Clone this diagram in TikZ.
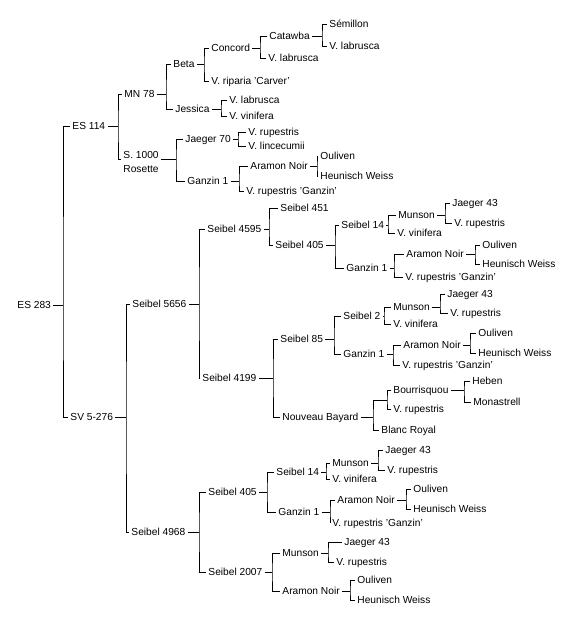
\documentclass[tikz,border=0pt]{standalone}
\usepackage{fontspec}
\setmainfont{Liberation Sans}
\begin{document}
\begin{tikzpicture}[x=1pt, y=-1pt, line width=0.9pt,
    font=\fontsize{10.2}{14}\selectfont,
    vine/.style={anchor=west, inner xsep=2pt, inner ysep=1pt, text height=8pt, text depth=1pt}]
        \useasboundingbox (0,0) rectangle (573,618);

        \node[vine] (es283) at (15,305) {ES 283};
        \node[vine] (es114) at (70,126) {ES 114};
        \node[vine] (sv) at (68,417) {SV 5-276};

        \node[vine] (mn78) at (122,94) {MN 78};
        \node[vine] (beta) at (171,64) {Beta};
        \node[vine] (concord) at (209,48) {Concord};
        \node[vine] (catawba) at (267,36) {Catawba};
        \node[vine] (semillon) at (327,24) {Sémillon};
        \node[vine] (labrA) at (327,46) {V. labrusca};
        \node[vine] (labrB) at (266,58) {V. labrusca};
        \node[vine] (riparia) at (209,81) {V. riparia 'Carver'};
        \node[vine] (jessica) at (173,109) {Jessica};
        \node[vine] (labrC) at (227,100) {V. labrusca};
        \node[vine] (vinA) at (227,116) {V. vinifera};
        \node[anchor=west, inner sep=2pt, align=left] (s1000) at (121,162) {S. 1000\\Rosette};
        \coordinate (s1000w) at ([yshift=3pt]s1000.west);
        \coordinate (s1000e) at ([yshift=3pt]s1000.east);
        \node[vine] (jaeger70) at (183,139) {Jaeger 70};
        \node[vine] (rupA) at (246,132) {V. rupestris};
        \node[vine] (lince) at (246,146) {V. lincecumii};
        \node[vine] (ganzA) at (185,181) {Ganzin 1};
        \node[vine] (aramA) at (248,166) {Aramon Noir};
        \node[vine] (oulA) at (318,156) {Ouliven};
        \node[vine] (heuA) at (318,176) {Heunisch Weiss};
        \node[vine] (vrgA) at (244,191) {V. rupestris 'Ganzin'};

        \node[vine] (s5656) at (130,304) {Seibel 5656};
        \node[vine] (s4595) at (205,229) {Seibel 4595};
        \node[vine] (s451) at (278,208) {Seibel 451};
        \node[vine] (s405A) at (273,245) {Seibel 405};
        \node[vine] (s14A) at (339,225) {Seibel 14};
        \node[vine] (munA) at (396,215) {Munson};
        \node[vine] (j43A) at (450,203) {Jaeger 43};
        \node[vine] (rupB) at (452,223) {V. rupestris};
        \node[vine] (vinB) at (395,233) {V. vinifera};
        \node[vine] (ganzB) at (344,268) {Ganzin 1};
        \node[vine] (aramB) at (404,254) {Aramon Noir};
        \node[vine] (oulB) at (480,245) {Ouliven};
        \node[vine] (heuB) at (480,264) {Heunisch Weiss};
        \node[vine] (vrgB) at (403,277) {V. rupestris 'Ganzin'};

        \node[vine] (s4199) at (200,378) {Seibel 4199};
        \node[vine] (s85) at (278,339) {Seibel 85};
        \node[vine] (s2) at (341,316) {Seibel 2};
        \node[vine] (munB) at (391,307) {Munson};
        \node[vine] (j43B) at (445,294) {Jaeger 43};
        \node[vine] (rupC) at (448,313) {V. rupestris};
        \node[vine] (vinC) at (391,324) {V. vinifera};
        \node[vine] (ganzC) at (341,354) {Ganzin 1};
        \node[vine] (aramC) at (401,345) {Aramon Noir};
        \node[vine] (oulC) at (476,333) {Ouliven};
        \node[vine] (heuC) at (476,353) {Heunisch Weiss};
        \node[vine] (vrgC) at (400,365) {V. rupestris 'Ganzin'};
        \node[vine] (nb) at (280,417) {Nouveau Bayard};
        \coordinate (nbj) at (387,400);
        \node[vine] (bourr) at (391,390) {Bourrisquou};
        \node[vine] (heben) at (470,381) {Heben};
        \node[vine] (monas) at (471,402) {Monastrell};
        \node[vine] (rupD) at (391,409) {V. rupestris};
        \node[vine] (blanc) at (379,430) {Blanc Royal};

        \node[vine] (s4968) at (129,532) {Seibel 4968};
        \node[vine] (s405B) at (206,492) {Seibel 405};
        \node[vine] (s14B) at (274,472) {Seibel 14};
        \node[vine] (munC) at (330,463) {Munson};
        \node[vine] (j43C) at (383,450) {Jaeger 43};
        \node[vine] (rupE) at (385,470) {V. rupestris};
        \node[vine] (vinD) at (330,479) {V. vinifera};
        \node[vine] (ganzD) at (276,512) {Ganzin 1};
        \node[vine] (aramD) at (335,500) {Aramon Noir};
        \node[vine] (oulD) at (411,489) {Ouliven};
        \node[vine] (heuD) at (411,509) {Heunisch Weiss};
        \node[vine] (vrgD) at (330,523) {V. rupestris 'Ganzin'};
        \node[vine] (s2007) at (206,572) {Seibel 2007};
        \node[vine] (munD) at (280,553) {Munson};
        \node[vine] (j43D) at (342,542) {Jaeger 43};
        \node[vine] (rupF) at (334,562) {V. rupestris};
        \node[vine] (aramE) at (280,591) {Aramon Noir};
        \node[vine] (oulE) at (355,580) {Ouliven};
        \node[vine] (heuE) at (355,600) {Heunisch Weiss};

        \draw (es114.west) -| (63,0 |- es283) |- (sv.west) (es283.east) -- (63,0 |- es283);
        \draw (mn78.west) -| (118,0 |- es114) |- (s1000w) (es114.east) -- (118,0 |- es114);
        \draw (beta.west) -| (166,0 |- mn78) |- (jessica.west) (mn78.east) -- (166,0 |- mn78);
        \draw (concord.west) -| (204,0 |- beta) |- (riparia.west) (beta.east) -- (204,0 |- beta);
        \draw (catawba.west) -| (260,0 |- concord) |- (labrB.west) (concord.east) -- (260,0 |- concord);
        \draw (semillon.west) -| (322,0 |- catawba) |- (labrA.west) (catawba.east) -- (322,0 |- catawba);
        \draw (labrC.west) -| (221,0 |- jessica) |- (vinA.west) (jessica.east) -- (221,0 |- jessica);
        \draw (jaeger70.west) -| (176,0 |- s1000e) |- (ganzA.west) (s1000e) -- (176,0 |- s1000e);
        \draw (rupA.west) -| (238,0 |- jaeger70) |- (lince.west) (jaeger70.east) -- (238,0 |- jaeger70);
        \draw (aramA.west) -| (239,0 |- ganzA) |- (vrgA.west) (ganzA.east) -- (239,0 |- ganzA);
        \draw (oulA.west) -| (317,0 |- aramA) |- (heuA.west) (aramA.east) -- (317,0 |- aramA);

        \draw (s5656.west) -| (126,0 |- sv) |- (s4968.west) (sv.east) -- (126,0 |- sv);
        \draw (s4595.west) -| (199,0 |- s5656) |- (s4199.west) (s5656.east) -- (199,0 |- s5656);
        \draw (s451.west) -| (269,0 |- s4595) |- (s405A.west) (s4595.east) -- (269,0 |- s4595);
        \draw (s14A.west) -| (335,0 |- s405A) |- (ganzB.west) (s405A.east) -- (335,0 |- s405A);
        \draw (munA.west) -| (388,0 |- s14A) |- (vinB.west) (s14A.east) -- (388,0 |- s14A);
        \draw (j43A.west) -| (445,0 |- munA) |- (rupB.west) (munA.east) -- (445,0 |- munA);
        \draw (aramB.west) -| (394,0 |- ganzB) |- (vrgB.west) (ganzB.east) -- (394,0 |- ganzB);
        \draw (oulB.west) -| (475,0 |- aramB) |- (heuB.west) (aramB.east) -- (475,0 |- aramB);
        \draw (s85.west) -| (273,0 |- s4199) |- (nb.west) (s4199.east) -- (273,0 |- s4199);
        \draw (s2.west) -| (334,0 |- s85) |- (ganzC.west) (s85.east) -- (334,0 |- s85);
        \draw (munB.west) -| (384,0 |- s2) |- (vinC.west) (s2.east) -- (384,0 |- s2);
        \draw (j43B.west) -| (440,0 |- munB) |- (rupC.west) (munB.east) -- (440,0 |- munB);
        \draw (aramC.west) -| (393,0 |- ganzC) |- (vrgC.west) (ganzC.east) -- (393,0 |- ganzC);
        \draw (oulC.west) -| (470,0 |- aramC) |- (heuC.west) (aramC.east) -- (470,0 |- aramC);
        \draw (nbj) -| (373,0 |- nb) |- (blanc.west) (nb.east) -- (373,0 |- nb);
        \draw (bourr.west) -| (nbj) |- (rupD.west);
        \draw (heben.west) -| (464,0 |- bourr) |- (monas.west) (bourr.east) -- (464,0 |- bourr);

        \draw (s405B.west) -| (199,0 |- s4968) |- (s2007.west) (s4968.east) -- (199,0 |- s4968);
        \draw (s14B.west) -| (267,0 |- s405B) |- (ganzD.west) (s405B.east) -- (267,0 |- s405B);
        \draw (munC.west) -| (326,0 |- s14B) |- (vinD.west) (s14B.east) -- (326,0 |- s14B);
        \draw (j43C.west) -| (378,0 |- munC) |- (rupE.west) (munC.east) -- (378,0 |- munC);
        \draw (aramD.west) -| (330,0 |- ganzD) |- (vrgD.west) (ganzD.east) -- (330,0 |- ganzD);
        \draw (oulD.west) -| (406,0 |- aramD) |- (heuD.west) (aramD.east) -- (406,0 |- aramD);
        \draw (munD.west) -| (272,0 |- s2007) |- (aramE.west) (s2007.east) -- (272,0 |- s2007);
        \draw (j43D.west) -| (328,0 |- munD) |- (rupF.west) (munD.east) -- (328,0 |- munD);
        \draw (oulE.west) -| (350,0 |- aramE) |- (heuE.west) (aramE.east) -- (350,0 |- aramE);
    \end{tikzpicture}
\end{document}
